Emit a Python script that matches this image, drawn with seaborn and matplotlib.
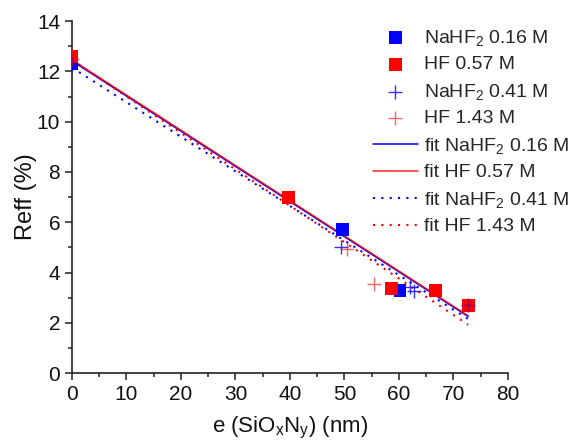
import numpy as np
import pandas as pd
import matplotlib
matplotlib.use("Agg")
import matplotlib.pyplot as plt
from matplotlib.ticker import MultipleLocator
import seaborn as sns

# measured points (thickness in nm, Reff in %)
x_nahf2_016 = [0, 49.6, 60.2, 72.7]
y_nahf2_016 = [12.3, 5.7, 3.3, 2.7]

x_hf_057 = [0, 39.7, 58.6, 66.7, 72.7]
y_hf_057 = [12.6, 7.0, 3.37, 3.3, 2.7]

x_nahf2_041 = [0, 49.3, 62.1, 62.8, 72.7]
y_nahf2_041 = [12.3, 5.0, 3.41, 3.25, 2.7]

x_hf_143 = [0, 50.5, 55.5, 72.7]
y_hf_143 = [12.5, 4.93, 3.53, 2.7]

# linear fits, end points
fit_x = [0, 72.7]
fit_nahf2_016 = [12.42, 2.25]
fit_hf_057 = [12.46, 2.28]
fit_nahf2_041 = [12.15, 2.15]
fit_hf_143 = [12.45, 1.92]

BLUE = "#0000ff"
RED = "#ff0000"

sns.set_style("ticks")
plt.rcParams["font.family"] = ["Liberation Sans", "DejaVu Sans"]
plt.rcParams["mathtext.fontset"] = "custom"
plt.rcParams["mathtext.rm"] = "Liberation Sans"
plt.rcParams["mathtext.it"] = "Liberation Sans:italic"
plt.rcParams["mathtext.default"] = "regular"

fig = plt.figure(figsize=(5.74, 4.4), dpi=100)
ax = fig.add_axes([0.1254, 0.152, 0.7596, 0.8])

dot = (0, (1, 3))
sns.lineplot(x=fit_x, y=fit_nahf2_016, color=BLUE, lw=1.1, ax=ax,
             label="fit NaHF$_2$ 0.16 M", zorder=2)
sns.lineplot(x=fit_x, y=fit_hf_057, color=RED, lw=1.1, ax=ax, alpha=0.85,
             label="fit HF 0.57 M", zorder=2)
sns.lineplot(x=fit_x, y=fit_nahf2_041, color=BLUE, lw=1.5, ls=dot, ax=ax,
             label="fit NaHF$_2$ 0.41 M", zorder=2)
sns.lineplot(x=fit_x, y=fit_hf_143, color=RED, lw=1.5, ls=dot, ax=ax,
             label="fit HF 1.43 M", zorder=2)

sns.scatterplot(x=x_nahf2_016, y=y_nahf2_016, marker="s", s=85, color=BLUE,
                edgecolor="none", ax=ax, label="NaHF$_2$ 0.16 M", zorder=3)
sns.scatterplot(x=x_hf_057, y=y_hf_057, marker="s", s=85, color=RED,
                edgecolor="none", ax=ax, label="HF 0.57 M", zorder=3)
sns.scatterplot(x=x_nahf2_041, y=y_nahf2_041, marker="+", s=110, color=BLUE,
                linewidth=1.0, alpha=0.8, ax=ax, label="NaHF$_2$ 0.41 M", zorder=4)
sns.scatterplot(x=x_hf_143, y=y_hf_143, marker="+", s=110, color=RED,
                linewidth=1.0, alpha=0.6, ax=ax, label="HF 1.43 M", zorder=4)

ax.set_xlim(0, 80)
ax.set_ylim(0, 14)
ax.xaxis.set_major_locator(MultipleLocator(10))
ax.xaxis.set_minor_locator(MultipleLocator(5))
ax.yaxis.set_major_locator(MultipleLocator(2))
ax.yaxis.set_minor_locator(MultipleLocator(1))
ax.tick_params(which="major", direction="out", length=5, width=1.1,
               labelsize=15, color="#222222", labelcolor="#111111")
ax.tick_params(which="minor", direction="out", length=3, width=1.1,
               color="#222222")
for side in ["left", "bottom"]:
    ax.spines[side].set_linewidth(1.2)
    ax.spines[side].set_color("#222222")
sns.despine(ax=ax)

ax.set_xlabel("e (SiO$_x$N$_y$) (nm)", fontsize=16, color="#111111",
              labelpad=8)
ax.set_ylabel("Reff (%)", fontsize=17, color="#111111", labelpad=0)

handles, labels = ax.get_legend_handles_labels()
order = [4, 5, 6, 7, 0, 1, 2, 3]
ax.legend([handles[i] for i in order], [labels[i] for i in order],
          loc="upper left", bbox_to_anchor=(0.650, 0.937),
          bbox_transform=fig.transFigure, frameon=False, fontsize=14,
          handlelength=2.3, handletextpad=0.3, labelspacing=0.42,
          borderpad=0, borderaxespad=0)

fig.savefig("out.png", dpi=100)
